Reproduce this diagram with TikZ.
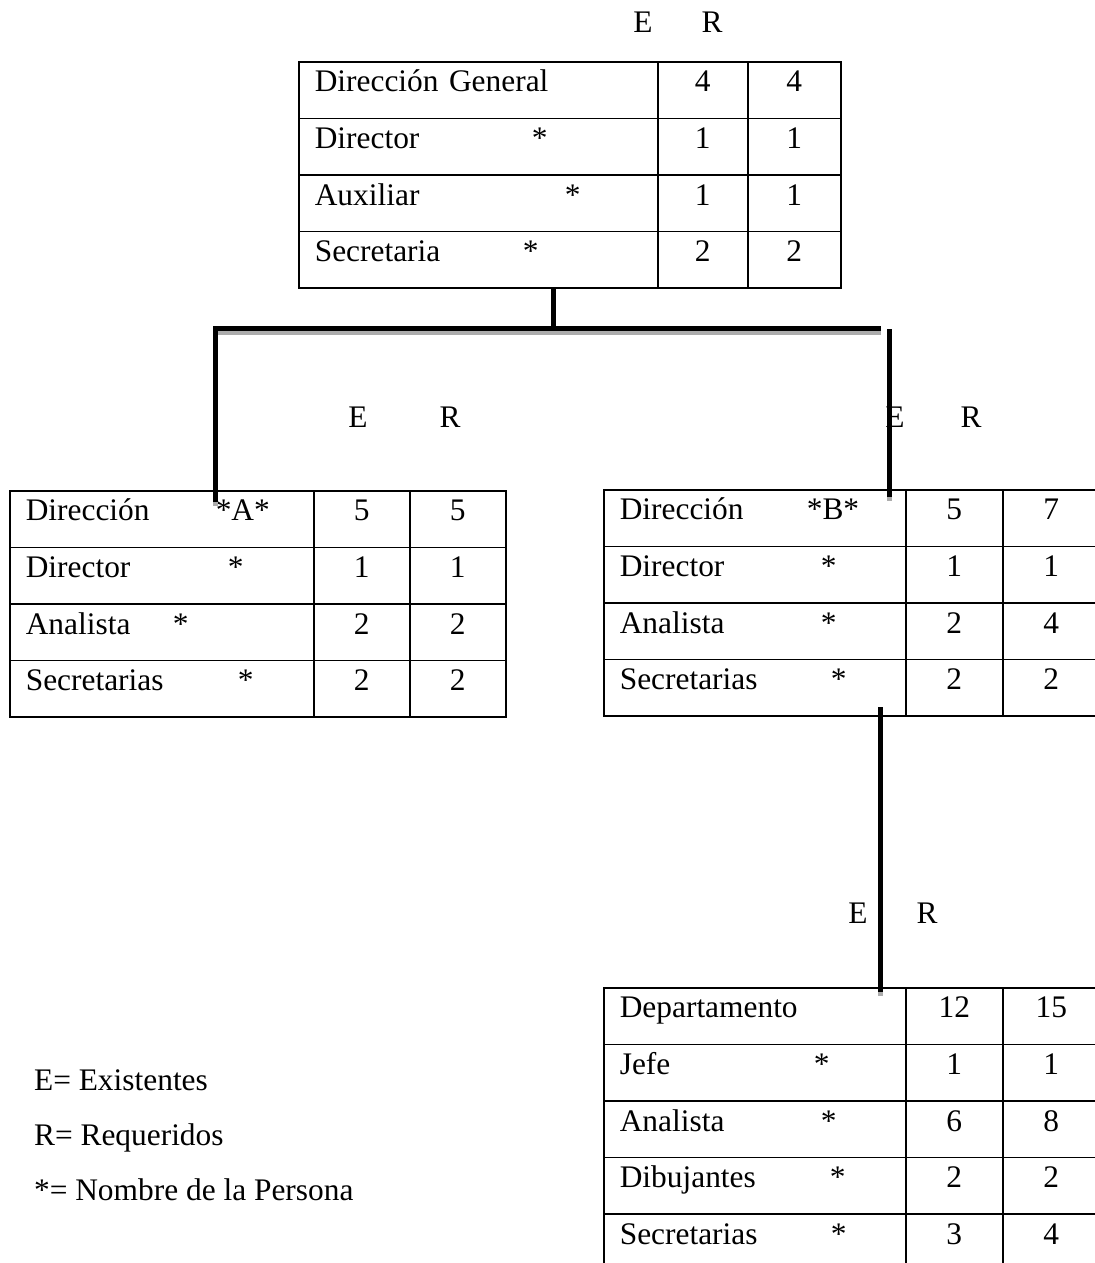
\documentclass[tikz,border=0pt]{standalone}
\usepackage{fontspec}
\setmainfont{Liberation Serif}
\usetikzlibrary{matrix}
\usetikzlibrary{positioning}

\newcommand{\cargo}[2]{\makebox[#1][l]{#2}*}

\tikzset{x=0.5pt, y=-0.5pt,
every node/.style={font=\fontsize{15.7}{18}\selectfont},
cell/.style={ % Sets the properties for each box of a table
draw,
line width=0.8pt,
outer sep=0pt,
inner ysep=0pt,
text height=15pt,
text depth=13.3pt},
orgtab/.style n args={3}{ % Table: text width of the first column, widths of E and R
matrix of nodes,
anchor=north west,
inner sep=0pt,
outer sep=0pt,
row sep=-0.8pt,
column sep=-0.8pt,
nodes={cell},
column 1/.style={nodes={text width=#1, inner xsep=8pt, align=left}},
column 2/.style={nodes={minimum width=#2, inner xsep=0pt}},
column 3/.style={nodes={minimum width=#3, inner xsep=0pt}}},
head/.style={anchor=base}, % E and R above a table
legend/.style={anchor=base west},
link/.style={ % Sets the properties for each connector
line width=2.5pt,
preaction={draw=gray!65, line width=2.5pt, transform canvas={yshift=-2pt}}}}

\begin{document}
\begin{tikzpicture}
	\useasboundingbox (0,0) rectangle (1094,1263);
	\matrix[orgtab={163.5pt}{45pt}{46.5pt}] (dg) at (298,61) {
		Dirección General & 4 & 4 \\
		\cargo{108.5pt}{Director} & 1 & 1 \\
		\cargo{125pt}{Auxiliar} & 1 & 1 \\
		\cargo{104pt}{Secretaria} & 2 & 2 \\
	};
	\matrix[orgtab={136pt}{48pt}{48pt}] (dA) at (9,490) {
		\cargo{95pt}{Dirección}A* & 5 & 5 \\
		\cargo{101pt}{Director} & 1 & 1 \\
		\cargo{73.5pt}{Analista} & 2 & 2 \\
		\cargo{106pt}{Secretarias} & 2 & 2 \\
	};
	\matrix[orgtab={135pt}{48.5pt}{48.5pt}] (dB) at (603,489) {
		\cargo{93.5pt}{Dirección}B* & 5 & 7 \\
		\cargo{100.5pt}{Director} & 1 & 1 \\
		\cargo{100.5pt}{Analista} & 2 & 4 \\
		\cargo{105.5pt}{Secretarias} & 2 & 2 \\
	};
	\matrix[orgtab={135pt}{48.5pt}{48.5pt}] (dep) at (603,987) {
		Departamento & 12 & 15 \\
		\cargo{97pt}{Jefe} & 1 & 1 \\
		\cargo{100.5pt}{Analista} & 6 & 8 \\
		\cargo{105pt}{Dibujantes} & 2 & 2 \\
		\cargo{105.5pt}{Secretarias} & 3 & 4 \\
	};
	\node[head] (eT) at (643,33) {E};
	\node[head] (rT) at (712,33) {R};
	\node[head] (eA) at (358,427) {E};
	\node[head] (rA) at (450,427) {R};
	\node[head] (eB) at (895,427) {E};
	\node[head] (rB) at (971,427) {R};
	\node[head] (eD) at (858,923) {E};
	\node[head] (rD) at (927,923) {R};
	\coordinate (jt) at (553.5,328.5);
	\coordinate (hl) at (213,328.5);
	\coordinate (hr) at (881,328.5);
	\coordinate (ja) at (215.5,326);
	\coordinate (jb) at (889,329);
	\coordinate (jd) at (880,707);
	\draw[link] (jt |- dg.south) -- (jt);
	\draw[link] (hl) -- (hr);
	\draw[link, shorten >=-6pt] (ja) -- (ja |- dA.north);
	\draw[link, shorten >=-4pt] (jb) -- (jb |- dB.north);
	\draw[link, shorten >=-2.5pt] (jd) -- (jd |- dep.north);
	\node[legend] (lE) at (27,1090) {E= Existentes};
	\node[legend] (lR) at (27,1145) {R= Requeridos};
	\node[legend] (lP) at (27,1200) {*= Nombre de la Persona};
\end{tikzpicture}
\end{document}
